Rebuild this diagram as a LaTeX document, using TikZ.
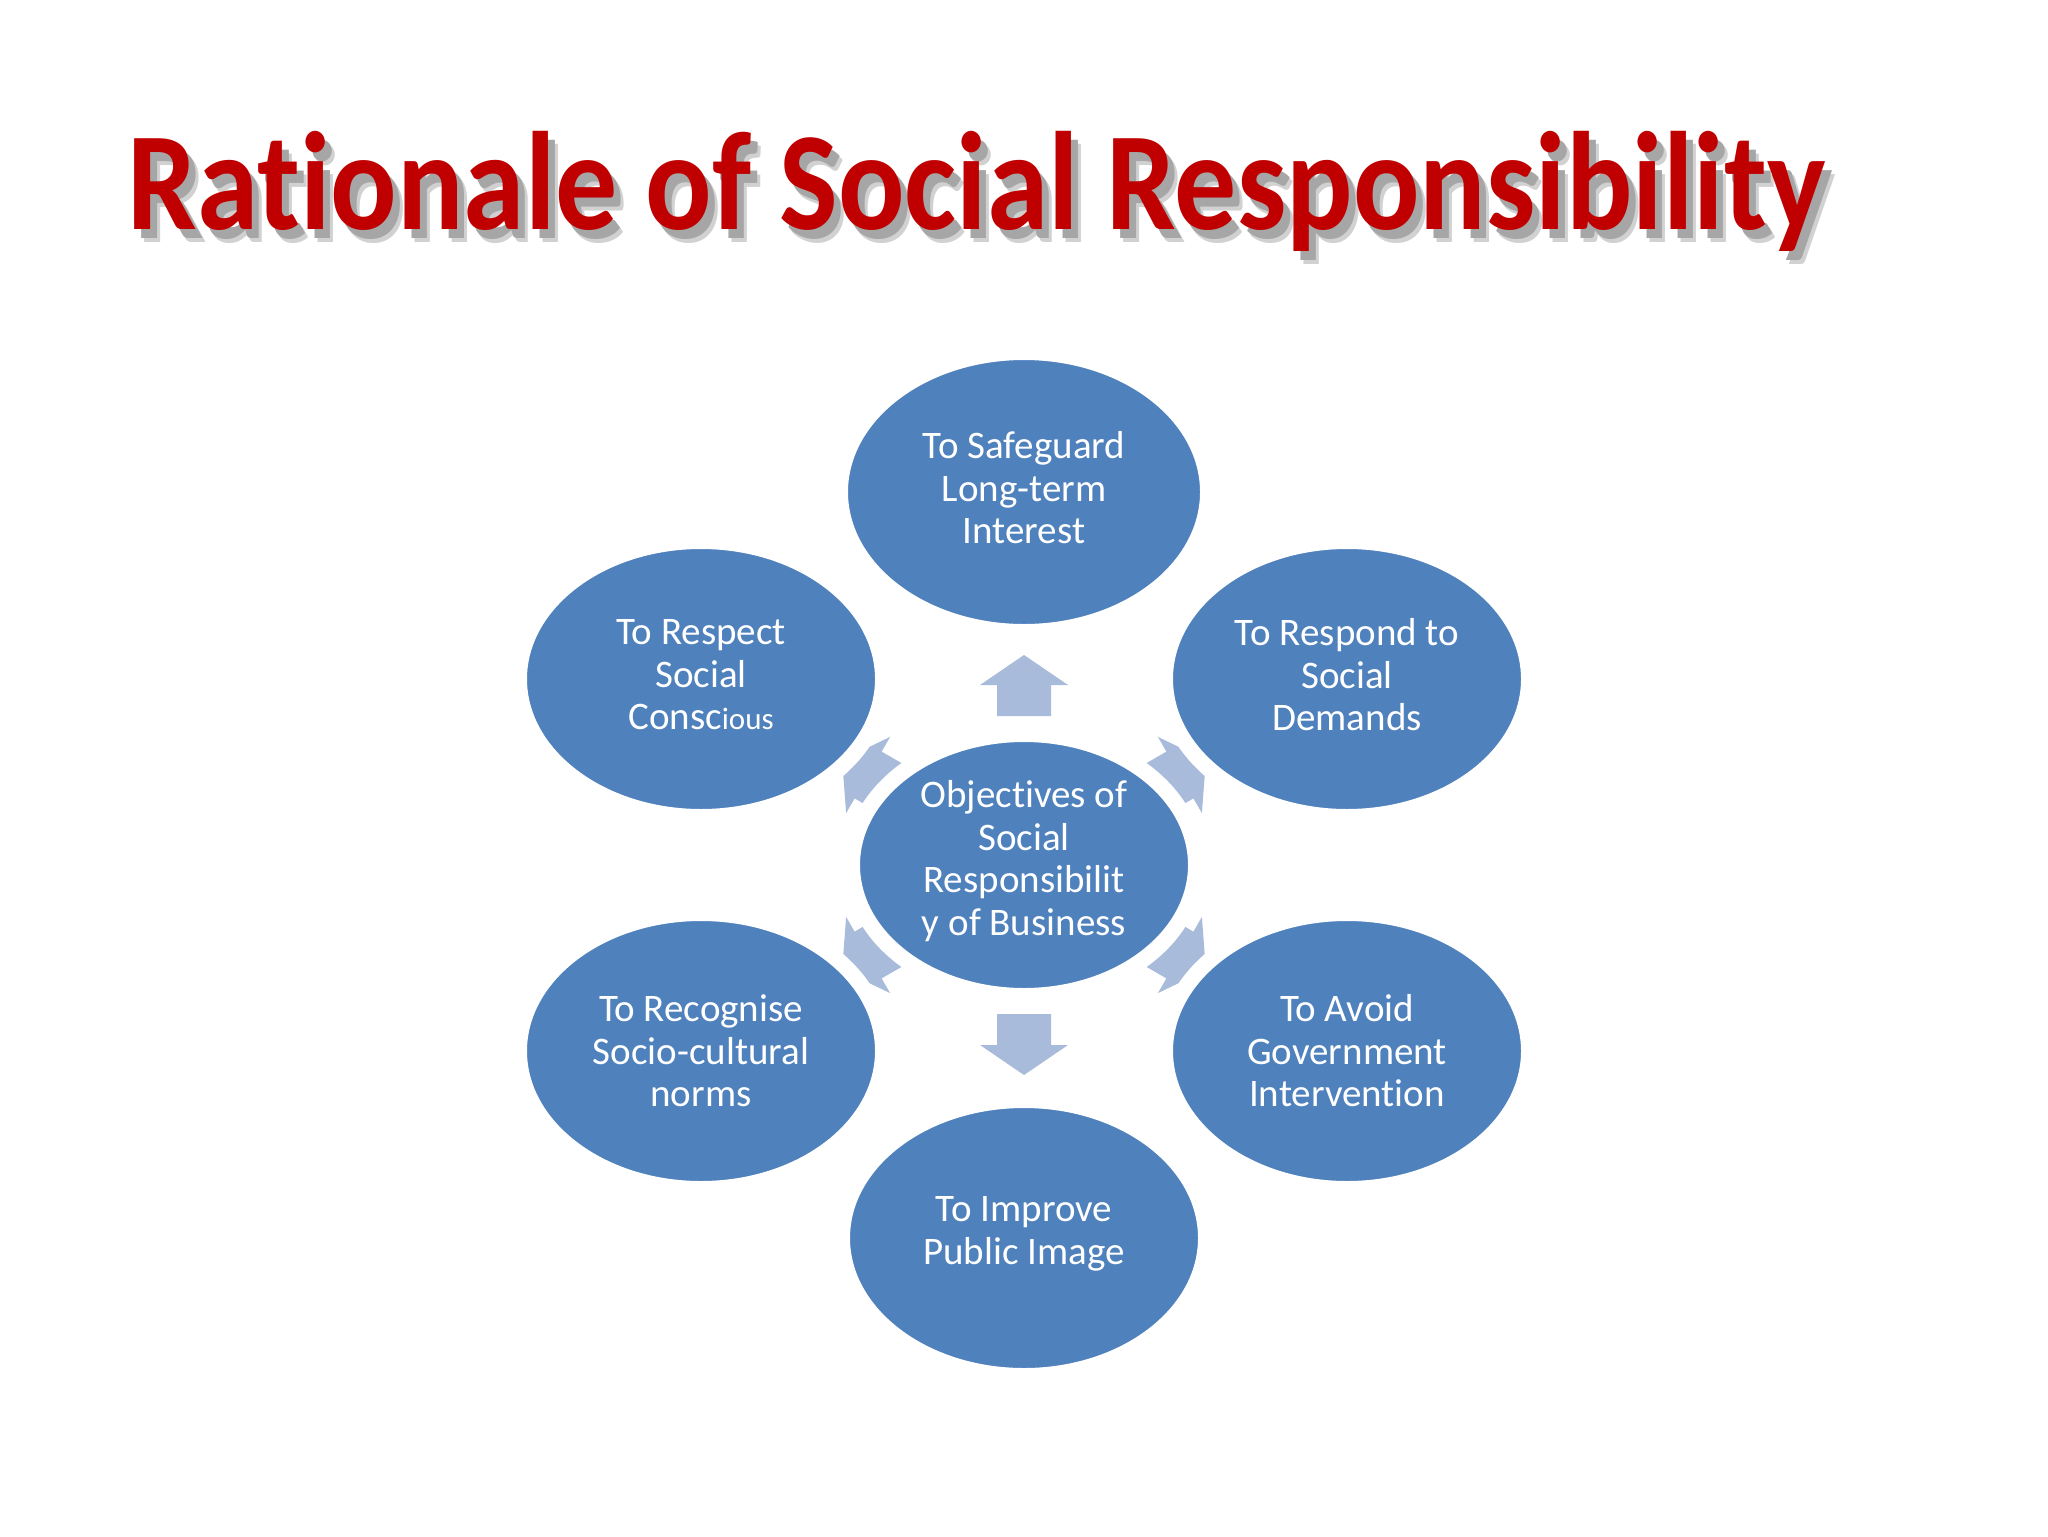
\documentclass[tikz,border=0pt]{standalone}
\usepackage{fontspec}
\setmainfont{Carlito}[Ligatures=NoCommon]
\usetikzlibrary{shapes.geometric}
\definecolor{ellblue}{HTML}{4F81BD}
\definecolor{arrblue}{HTML}{A9BBDA}
\definecolor{titlered}{HTML}{C00000}
\newcommand{\ttltext}{\scalebox{0.885}[1]{Rationale of Social Responsibility}}
\begin{document}
\begin{tikzpicture}[x=0.5pt,y=-0.5pt,
  ell/.style={ellipse, fill=ellblue, draw=white, line width=8pt, inner sep=0pt},
  lbl/.style={text=white, align=center, font=\fontsize{19.5}{21.25}\selectfont, inner sep=0pt},
  ttl/.style={anchor=base west, inner sep=0pt, font=\fontsize{70}{80}\selectfont\bfseries},
  arr/.style={fill=arrblue}]
\useasboundingbox[fill=white] (0,0) rectangle (2048,1536);
% title
\node[ttl, text=black!18] (tshadow2) at (137,242) {\ttltext};
\node[ttl, text=black!35] (tshadow) at (134,238) {\ttltext};
\node[ttl, text=titlered] (title) at (127,229) {\ttltext};
% arrows
\coordinate (ctr) at (1024,865);
\foreach \a in {90,150,210,270,330,30}{
  \begin{scope}[shift={(ctr)}, rotate=\a]
    \fill[arr] (149,-27) -- (180,-27) -- (180,-44) -- (210,0) -- (180,44) -- (180,27) -- (149,27) -- cycle;
  \end{scope}
}
% ellipses
\node[ell, minimum width=184pt, minimum height=140pt] (t) at (1024,492) {};
\node[ell, minimum width=182pt, minimum height=138pt] (ul) at (701,679) {};
\node[ell, minimum width=182pt, minimum height=138pt] (ur) at (1347,679) {};
\node[ell, minimum width=182pt, minimum height=138pt] (ll) at (701,1051) {};
\node[ell, minimum width=182pt, minimum height=138pt] (lr) at (1347,1051) {};
\node[ell, minimum width=182pt, minimum height=138pt] (b) at (1024,1238) {};
\node[ell, minimum width=172pt, minimum height=131pt] (c) at (1024,865) {};
% labels
\node[lbl] (tl) at ([yshift=2pt]t) {To Safeguard\\Long-term\\Interest};
\node[lbl] (ull) at ([yshift=2pt]ul) {To Respect\\Social\\Consc{\fontsize{15.5}{21.25}\selectfont ious}};
\node[lbl] (url) at ([yshift=2pt]ur) {To Respond to\\Social\\Demands};
\node[lbl] (lll) at (ll) {To Recognise\\Socio-cultural\\norms};
\node[lbl] (lrl) at (lr) {To Avoid\\Government\\Intervention};
\node[lbl] (bl) at ([yshift=2pt]b) {To Improve\\Public Image};
\node[lbl] (cl) at ([yshift=2pt]c) {Objectives of\\Social\\Responsibilit\\y of Business};
\end{tikzpicture}
\end{document}
